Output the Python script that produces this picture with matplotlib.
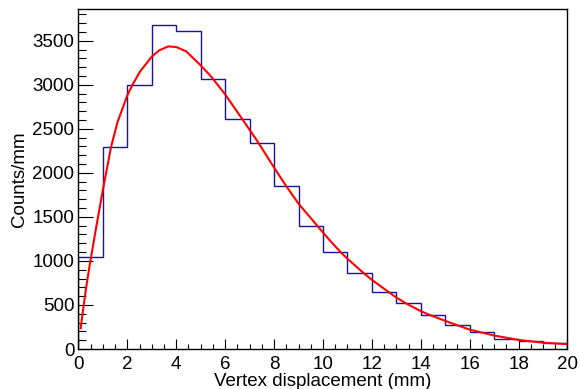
"""Vertex displacement histogram with fitted curve (ROOT-style look)."""

import matplotlib
matplotlib.use("Agg")
import matplotlib.pyplot as plt
import numpy as np
from matplotlib.ticker import MultipleLocator

plt.rcParams["font.family"] = ["Liberation Sans", "DejaVu Sans"]

# histogram: 1 mm bins from 0 to 20 mm
bin_edges = np.arange(0, 21, 1)
counts = [1045, 2295, 3000, 3680, 3610, 3068, 2612, 2340, 1850, 1398,
          1096, 860, 648, 527, 383, 269, 193, 117, 87, 64]

# fit curve
fit_x = [0.09, 0.17, 0.31, 0.44, 0.51, 0.72, 1.0, 1.33, 1.6, 2.0, 2.21,
         2.52, 3.0, 3.3, 3.67, 4.0, 4.4, 5.0, 5.45, 6.0, 6.7, 7.35, 8.0,
         8.47, 9.0, 9.81, 10.29, 10.72, 11.0, 11.65, 12.0, 12.67, 13.0,
         13.35, 14.0, 14.38, 15.19, 16.0, 17.0, 18.0, 19.0, 20.0]
fit_y = [235, 410, 690, 920, 1035, 1375, 1810, 2290, 2580, 2880, 3000,
         3150, 3320, 3390, 3435, 3428, 3380, 3220, 3085, 2890, 2610, 2345, 2060,
         1860, 1650, 1385, 1230, 1100, 1025, 865, 785, 650, 585,
         525, 430, 385, 300, 220, 153, 103, 72, 55]

fig = plt.figure(figsize=(5.8, 3.89), dpi=100)
ax = fig.add_axes([0.1353, 0.1028, 0.8431, 0.8741])

ax.stairs(counts, bin_edges, color="#14149c", linewidth=1.0)
ax.plot(fit_x, fit_y, color="red", linewidth=1.5)

ax.set_xlim(0, 20)
ax.set_ylim(0, 3860)
ax.xaxis.set_major_locator(MultipleLocator(2))
ax.xaxis.set_minor_locator(MultipleLocator(0.5))
ax.yaxis.set_major_locator(MultipleLocator(500))
ax.yaxis.set_minor_locator(MultipleLocator(100))
ax.tick_params(which="both", direction="in", top=False, right=False,
               labelsize=13.5, width=0.8, color="black")
ax.tick_params(axis="x", which="major", length=7.5, pad=5)
ax.tick_params(axis="x", which="minor", length=3.7)
ax.tick_params(axis="y", which="major", length=11, pad=3)
ax.tick_params(axis="y", which="minor", length=5.5)

for s in ax.spines.values():
    s.set_linewidth(1.0)

ax.set_xlabel("Vertex displacement (mm)", fontsize=13.5, labelpad=0)
ax.set_ylabel("Counts/mm", fontsize=13.5, labelpad=3)

fig.savefig("out.png", dpi=100)
